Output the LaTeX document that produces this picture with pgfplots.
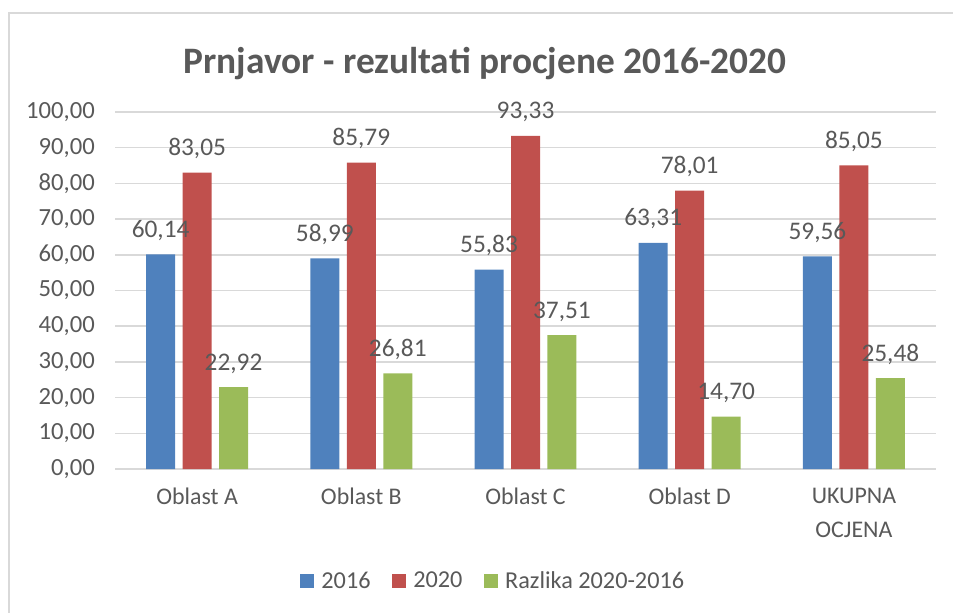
\documentclass[border=0pt]{standalone}
\usepackage{fontspec}
\setmainfont{Carlito}
\usepackage{pgfplots}
\pgfplotsset{compat=1.18}
\definecolor{txt}{HTML}{595959}
\definecolor{c1}{HTML}{4F81BD}
\definecolor{c2}{HTML}{C0504D}
\definecolor{c3}{HTML}{9BBB59}
\definecolor{gridc}{HTML}{D9D9D9}
\begin{document}
\begin{tikzpicture}
\path[use as bounding box] (0,0) rectangle (714.75pt,-459.75pt);
\draw[gridc, line width=1.5pt] (6.75pt,-460pt) -- (6.75pt,-9.75pt) -- (715pt,-9.75pt);
\node[font=\fontsize{28}{33}\selectfont\bfseries, text=txt, anchor=base, inner sep=0pt] at (363.75pt,-55pt) {Prnjavor - rezultati procjene 2016-2020};
\begin{axis}[
  at={(86.25pt,-351.75pt)}, anchor=south west,
  scale only axis, width=615.75pt, height=267.75pt,
  ybar=5.6pt, bar width=21.75pt,
  xmin=-0.5, xmax=4.5, ymin=0, ymax=100,
  xtick={0,1,2,3,4},
  xticklabels={Oblast A, Oblast B, Oblast C, Oblast D, {UKUPNA\\[1.5pt]OCJENA}},
  ytick={0,10,...,100},
  axis line style={draw=none},
  major tick length=0pt,
  ymajorgrids, grid style={gridc, line width=1.1pt},
  /pgf/number format/assume math mode=true,
  yticklabel style={/pgf/number format/fixed, /pgf/number format/fixed zerofill, /pgf/number format/precision=2, /pgf/number format/use comma, /pgf/number format/1000 sep={},
    font=\fontsize{18.5}{22}\selectfont, text=txt, xshift=-11.6pt},
  xticklabel style={font=\fontsize{17.9}{24}\selectfont, text=txt, align=center, yshift=-11pt},
  nodes near coords={\pgfmathprintnumber[fixed,fixed zerofill,precision=2,use comma]{\pgfplotspointmeta}},
  nodes near coords style={font=\fontsize{19}{23}\selectfont, text=txt, anchor=base, yshift=12.75pt},
  legend style={at={(0.461,-0.314)}, anchor=center, draw=none, fill=none,
    font=\fontsize{18.2}{22}\selectfont, text=txt, legend columns=3,
    /tikz/every even column/.append style={column sep=14pt}},
  legend image code/.code={\fill[#1] (0pt,-5.25pt) rectangle (10.5pt,5.25pt); \path (14pt,0pt);},
]
\addplot[fill=c1, draw=none] coordinates {(0,60.14) (1,58.99) (2,55.83) (3,63.31) (4,59.56)};
\addplot[fill=c2, draw=none] coordinates {(0,83.05) (1,85.79) (2,93.33) (3,78.01) (4,85.05)};
\addplot[fill=c3, draw=none] coordinates {(0,22.92) (1,26.81) (2,37.51) (3,14.70) (4,25.48)};
\legend{2016, 2020, Razlika 2020-2016}
\end{axis}
\end{tikzpicture}
\end{document}
